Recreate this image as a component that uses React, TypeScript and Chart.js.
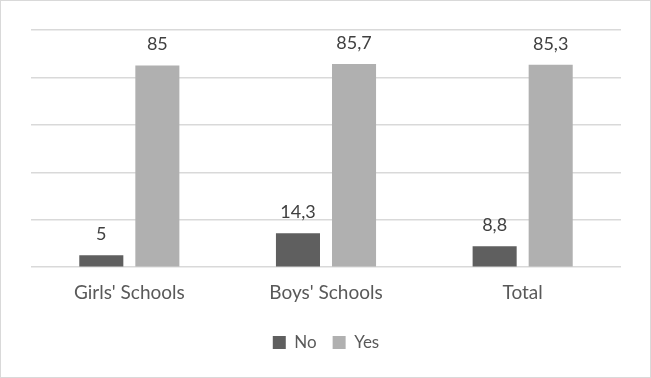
import React, { useEffect, useRef } from "react";
import { Chart, registerables } from "chart.js";

Chart.register(...registerables);

const categories = ["Girls' Schools", "Boys' Schools", "Total"];
const noValues = [5, 14.3, 8.8];
const yesValues = [85, 85.7, 85.3];
const seriesNames = ["No", "Yes"];

const FONT = "Lato, 'Open Sans', sans-serif";

const labelPlugin = {
  id: "valueLabels",
  afterDatasetsDraw(chart: any) {
    const ctx = chart.ctx;
    ctx.save();
    ctx.font = `18px ${FONT}`;
    ctx.fillStyle = "#404040";
    ctx.textAlign = "center";
    ctx.textBaseline = "middle";
    chart.data.datasets.forEach((ds: any, i: number) => {
      const meta = chart.getDatasetMeta(i);
      meta.data.forEach((el: any, j: number) => {
        const v = ds.data[j];
        ctx.fillText(String(v).replace(".", ","), el.x, el.y - 21);
      });
    });
    ctx.restore();
  },
};

export default function App() {
  const ref = useRef<HTMLCanvasElement | null>(null);
  useEffect(() => {
    document.body.style.margin = "0";
    const chart = new Chart(ref.current as HTMLCanvasElement, {
      type: "bar",
      data: {
        labels: categories,
        datasets: [
          { label: seriesNames[0], data: noValues, backgroundColor: "#5f5f5f" },
          { label: seriesNames[1], data: yesValues, backgroundColor: "#b0b0b0" },
        ],
      },
      options: {
        animation: false,
        responsive: false,
        maintainAspectRatio: false,
        datasets: { bar: { categoryPercentage: 0.57, barPercentage: 0.786 } },
        layout: { padding: { left: 31, right: 30, top: 30, bottom: 17 } },
        scales: {
          x: {
            grid: { display: false, drawTicks: false },
            border: { display: false },
            ticks: { color: "#595959", font: { family: FONT, size: 19 }, padding: 14 },
          },
          y: {
            min: 0,
            max: 100,
            ticks: { display: false, stepSize: 20 },
            grid: { color: "#d9d9d9", lineWidth: 1.5, drawTicks: false },
            border: { display: false },
          },
        },
        plugins: {
          legend: {
            position: "bottom",
            labels: {
              color: "#595959",
              font: { family: FONT, size: 17 },
              boxWidth: 13,
              boxHeight: 13,
              padding: 16,
            },
          },
          tooltip: { enabled: false },
        },
      },
      plugins: [labelPlugin],
    });
    return () => chart.destroy();
  }, []);
  return (
    <div style={{ position: "relative", width: 651, height: 378 }}>
      <canvas ref={ref} width={651} height={378} style={{ position: "absolute", left: 0, top: 0 }} />
      <div
        style={{
          position: "absolute",
          left: 0,
          top: 0,
          width: 651,
          height: 378,
          boxSizing: "border-box",
          border: "1px solid #d9d9d9",
          pointerEvents: "none",
        }}
      />
    </div>
  );
}
